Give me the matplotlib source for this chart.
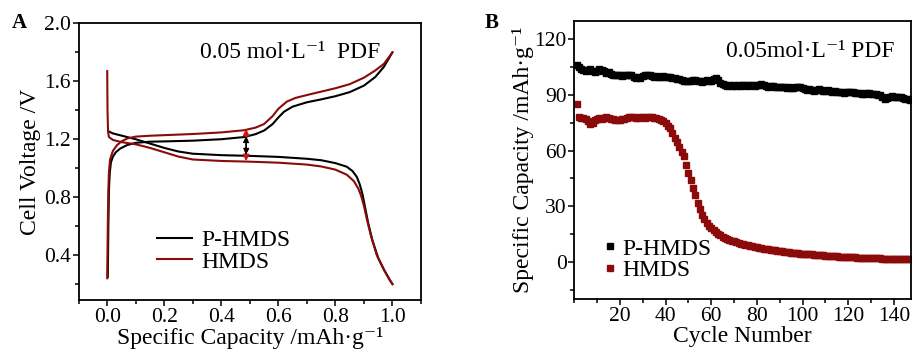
import numpy as np
from matplotlib import pyplot as plt
from matplotlib.ticker import MultipleLocator

plt.rcParams['font.family'] = ['Liberation Serif', 'DejaVu Serif']

BLACK = '#000000'
RED = '#8B0A0A'
ARROW_RED = '#D01515'

# ---- panel A: charge / discharge profiles (normalised capacity, V) ----
p_dis_x = [0.004, 0.02, 0.05, 0.1, 0.15, 0.2, 0.25, 0.3, 0.4, 0.5, 0.6, 0.7, 0.75, 0.8,
           0.84, 0.86, 0.875, 0.885, 0.895, 0.905, 0.915, 0.93, 0.95, 0.97, 0.99, 1.0]
p_dis_v = [1.255, 1.24, 1.225, 1.2, 1.17, 1.14, 1.115, 1.1, 1.09, 1.085, 1.078, 1.065, 1.055, 1.035,
           1.01, 0.98, 0.94, 0.89, 0.82, 0.72, 0.62, 0.5, 0.38, 0.3, 0.23, 0.2]

p_chg_x = [0.002, 0.004, 0.006, 0.009, 0.013, 0.02, 0.03, 0.045, 0.07, 0.1, 0.15, 0.2, 0.3, 0.4,
           0.48, 0.52, 0.55, 0.58, 0.6, 0.62, 0.65, 0.7, 0.75, 0.8, 0.85, 0.9, 0.94, 0.97, 1.0]
p_chg_v = [0.25, 0.6, 0.85, 0.97, 1.04, 1.08, 1.11, 1.135, 1.16, 1.175, 1.183, 1.185, 1.19, 1.2,
           1.215, 1.235, 1.26, 1.305, 1.35, 1.39, 1.425, 1.455, 1.475, 1.497, 1.525, 1.57, 1.63, 1.7, 1.8]

h_dis_x = [0.0, 0.001, 0.003, 0.006, 0.02, 0.05, 0.1, 0.15, 0.2, 0.25, 0.3, 0.4, 0.5, 0.6, 0.7,
           0.75, 0.8, 0.84, 0.865, 0.88, 0.89, 0.9, 0.91, 0.925, 0.945, 0.97, 0.99, 1.0]
h_dis_v = [1.67, 1.4, 1.25, 1.215, 1.195, 1.18, 1.165, 1.14, 1.11, 1.08, 1.06, 1.05, 1.045, 1.038, 1.025,
           1.012, 0.99, 0.955, 0.91, 0.86, 0.81, 0.74, 0.65, 0.53, 0.4, 0.3, 0.23, 0.2]

h_chg_x = [0.0, 0.002, 0.004, 0.006, 0.01, 0.02, 0.035, 0.05, 0.07, 0.1, 0.15, 0.2, 0.3, 0.4, 0.48,
           0.52, 0.55, 0.58, 0.6, 0.63, 0.66, 0.7, 0.8, 0.85, 0.9, 0.94, 0.97, 1.0]
h_chg_v = [0.24, 0.6, 0.85, 0.97, 1.06, 1.12, 1.16, 1.185, 1.205, 1.218, 1.224, 1.228, 1.236, 1.247, 1.262,
           1.28, 1.305, 1.36, 1.41, 1.46, 1.485, 1.505, 1.552, 1.58, 1.625, 1.675, 1.72, 1.8]

# polarisation arrows at x = 0.487
arrow_x = 0.487
p_gap = (1.092, 1.222)
h_gap = (1.048, 1.272)

# ---- panel B: cycling (mAh/g) ----
p_cap = [106, 105, 104, 103.5, 103, 103.5, 104, 103, 102.5, 103,
         104, 103.5, 103, 102, 102.5, 101.5, 101, 100.5, 101, 100.5,
         100, 101, 100.5, 101, 100.5, 99.5, 99, 99.5, 99, 100,
         100.5, 101, 100.5, 100, 99.5, 100, 99.5, 99.8, 100, 99.5,
         99.8, 99.5, 99, 99, 98.5, 98.5, 98, 97.5, 97.5, 97.5,
         97.5, 97.8, 98, 97.5, 97.5, 97, 97.5, 97.8, 97.5, 97.5,
         98.5, 99, 98, 96.5, 96, 95.5, 95, 95.3, 95, 95.5,
         95, 95.2, 95, 95.3, 95.5, 95, 95.2, 95.5, 95, 95.3,
         95.5, 95.8, 95.5, 95, 94.5, 95, 94.8, 94.5, 94.5, 94.3,
         94.5, 94, 93.8, 94, 93.5, 93.5, 94, 94.3, 94.5, 93.5,
         93, 92.8, 93, 92.5, 92.3, 92.5, 93, 92.5, 92, 92.3,
         92.5, 92, 91.8, 92, 91.5, 91.3, 91.5, 91, 91.3, 91.5,
         91.8, 91.5, 91, 90.8, 91, 90.5, 90.5, 91, 90.8, 90.5,
         90.3, 90.5, 90, 90.2, 89, 88, 88.3, 89, 89.5, 89,
         89, 88.8, 89, 88.5, 88, 87.8, 87.5]
h_cap = [85, 78, 77.5, 77.5, 77, 76, 74.5, 75, 76.5, 77,
         77.5, 77, 77.5, 78, 77.5, 77, 77, 76.5, 76.5, 76.5,
         77, 77, 77.5, 78, 78, 78, 77.5, 77.5, 78, 78,
         77.5, 78, 78, 78, 77.5, 77.5, 77, 76.5, 76, 75,
         73.5, 72, 69.5, 67, 64.5, 62, 59, 57, 52, 48,
         44, 40, 36, 32, 28.5, 25.5, 23, 21, 19.5, 18,
         17, 16, 15, 14.3, 13.6, 13, 12.4, 11.9, 11.4, 11,
         10.6, 10.2, 9.9, 9.6, 9.3, 9, 8.7, 8.4, 8.1, 7.8,
         7.6, 7.4, 7.2, 7, 6.8, 6.6, 6.4, 6.2, 6, 5.8,
         5.6, 5.5, 5.3, 5.2, 5, 4.9, 4.8, 4.6, 4.5, 4.4,
         4.3, 4.2, 4.1, 4, 3.9, 3.8, 3.7, 3.6, 3.5, 3.4,
         3.3, 3.2, 3.1, 3, 3, 2.9, 2.8, 2.7, 2.7, 2.6,
         2.5, 2.5, 2.4, 2.3, 2.3, 2.2, 2.2, 2.1, 2.1, 2,
         2, 1.9, 1.9, 1.9, 1.8, 1.8, 1.8, 1.7, 1.7, 1.7,
         1.7, 1.6, 1.6, 1.6, 1.6, 1.5, 1.5]
cycles = np.arange(1, len(p_cap) + 1)


def style_axes(ax):
    for s in ax.spines.values():
        s.set_linewidth(1.3)
    ax.tick_params(which='both', direction='out', width=1.1, labelsize=15.5, top=False, right=False)
    ax.tick_params(which='major', length=4.5, pad=1)
    ax.tick_params(which='minor', length=3)


fig = plt.figure(figsize=(9.14, 3.52), dpi=100)
axA = fig.add_axes([0.0861, 0.1477, 0.3745, 0.786])
axB = fig.add_axes([0.6283, 0.1506, 0.3684, 0.7906])

# panel A
axA.plot(p_dis_x, p_dis_v, color=BLACK, lw=1.5, label='P-HMDS')
axA.plot(p_chg_x, p_chg_v, color=BLACK, lw=1.5)
axA.plot(h_dis_x, h_dis_v, color=RED, lw=1.5, label='HMDS')
axA.plot(h_chg_x, h_chg_v, color=RED, lw=1.5)
axA.annotate('', xy=(arrow_x, h_gap[1]), xytext=(arrow_x, h_gap[0]),
             arrowprops=dict(arrowstyle='<|-|>', color=ARROW_RED, lw=1.2,
                             mutation_scale=9, shrinkA=0, shrinkB=0))
axA.annotate('', xy=(arrow_x, p_gap[1]), xytext=(arrow_x, p_gap[0]),
             arrowprops=dict(arrowstyle='<|-|>', color=BLACK, lw=1.2, linestyle=(0, (2, 1)),
                             mutation_scale=8, shrinkA=0, shrinkB=0))
axA.set_xlim(-0.1, 1.1)
axA.set_ylim(0.09, 2.0)
axA.xaxis.set_major_locator(MultipleLocator(0.2))
axA.xaxis.set_minor_locator(MultipleLocator(0.1))
axA.yaxis.set_major_locator(MultipleLocator(0.4))
axA.yaxis.set_minor_locator(MultipleLocator(0.2))
axA.set_xlabel('Specific Capacity /mAh·g⁻¹', fontsize=17, labelpad=0)
axA.set_ylabel('Cell Voltage /V', fontsize=17, labelpad=2)
style_axes(axA)
axA.text(0.617, 0.896, '0.05 mol·L⁻¹  PDF', transform=axA.transAxes,
         ha='center', va='center', fontsize=17)
axA.legend(loc='lower left', bbox_to_anchor=(0.2, 0.065), frameon=False, fontsize=17,
           handlelength=1.5, handletextpad=0.4, labelspacing=0.0, borderaxespad=0)
fig.text(0.013, 0.935, 'A', fontsize=15, fontweight='bold', ha='left', va='center')

# panel B
axB.plot(cycles, p_cap, 's', color=BLACK, ms=4, label='P-HMDS')
axB.plot(cycles, h_cap, 's', color=RED, ms=4, label='HMDS')
axB.set_xlim(0, 147.5)
axB.set_ylim(-20, 130)
axB.xaxis.set_major_locator(MultipleLocator(20))
axB.xaxis.set_minor_locator(MultipleLocator(10))
axB.yaxis.set_major_locator(MultipleLocator(30))
axB.yaxis.set_minor_locator(MultipleLocator(15))
axB.set_xticks([20, 40, 60, 80, 100, 120, 140])
axB.set_xlabel('Cycle Number', fontsize=17, labelpad=0)
axB.set_ylabel('Specific Capacity /mAh·g⁻¹', fontsize=17, labelpad=0)
style_axes(axB)
axB.text(0.70, 0.888, '0.05mol·L⁻¹ PDF', transform=axB.transAxes,
         ha='center', va='center', fontsize=17)
axB.legend(loc='lower left', bbox_to_anchor=(0.06, 0.03), frameon=False, fontsize=17,
           handlelength=0.5, handletextpad=0.3, labelspacing=0.0, borderaxespad=0,
           markerscale=1.0)
fig.text(0.53, 0.935, 'B', fontsize=15, fontweight='bold', ha='left', va='center')

fig.savefig('out.png', dpi=100)
